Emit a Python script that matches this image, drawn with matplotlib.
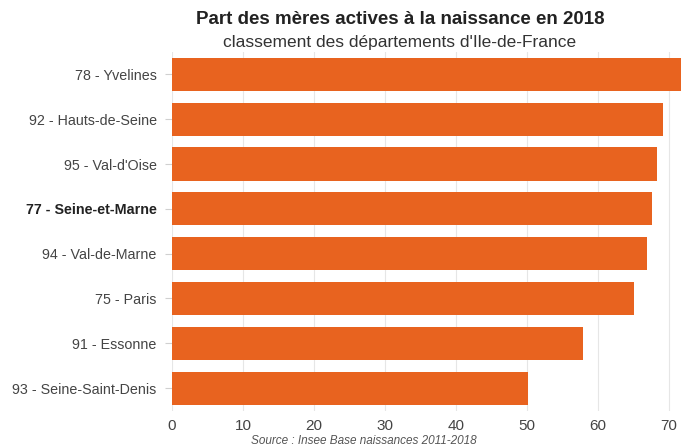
import matplotlib
matplotlib.use("Agg")
import matplotlib.pyplot as plt

# data
departements = ['78 - Yvelines', '92 - Hauts-de-Seine', "95 - Val-d'Oise",
                '77 - Seine-et-Marne', '94 - Val-de-Marne', '75 - Paris',
                '91 - Essonne', '93 - Seine-Saint-Denis']
part_actives = [73.5, 69.1, 68.3, 67.6, 66.9, 65.1, 57.9, 50.2]
xticks = [0, 10, 20, 30, 40, 50, 60, 70]
highlight = '77 - Seine-et-Marne'

plt.rcParams['font.family'] = ['Liberation Sans', 'DejaVu Sans']

W, H = 681, 448
fig = plt.figure(figsize=(W / 100, H / 100), dpi=100)
ax = fig.add_axes([172 / W, 1 - 410.5 / H, (W - 172) / W, (410.5 - 52) / H])

ypos = list(range(len(departements)))
ax.barh(ypos, part_actives, height=0.74, color='#E8631F', zorder=2)
ax.set_ylim(len(departements) - 0.5, -0.5)
ax.set_xlim(0, 71.7)

ax.set_yticks(ypos)
ax.set_yticklabels(departements, fontsize=10.3, color='#444444')
for lbl in ax.get_yticklabels():
    if lbl.get_text() == highlight:
        lbl.set_fontweight('bold')
        lbl.set_color('#222222')
ax.set_xticks(xticks)
ax.set_xticklabels([str(t) for t in xticks], fontsize=11, color='#444444')

ax.tick_params(axis='y', length=5, color='#d0d0d0', pad=6)
ax.tick_params(axis='x', length=0, pad=6)
ax.grid(axis='x', color='#e6e6e6', linewidth=0.8, zorder=0)
for s in ax.spines.values():
    s.set_visible(False)

# titles and source
fig.text(400 / W, 1 - 20 / H, 'Part des mères actives à la naissance en 2018',
         ha='center', va='center', fontsize=13.5, fontweight='bold', color='#222222')
fig.text(400 / W, 1 - 42 / H, "classement des départements d'Ile-de-France",
         ha='center', va='center', fontsize=12.5, color='#333333')
fig.text(364 / W, 1 - 441 / H, 'Source : Insee Base naissances 2011-2018',
         ha='center', va='center', fontsize=8.5, style='italic', color='#555555')

fig.savefig('out.png', dpi=100)
